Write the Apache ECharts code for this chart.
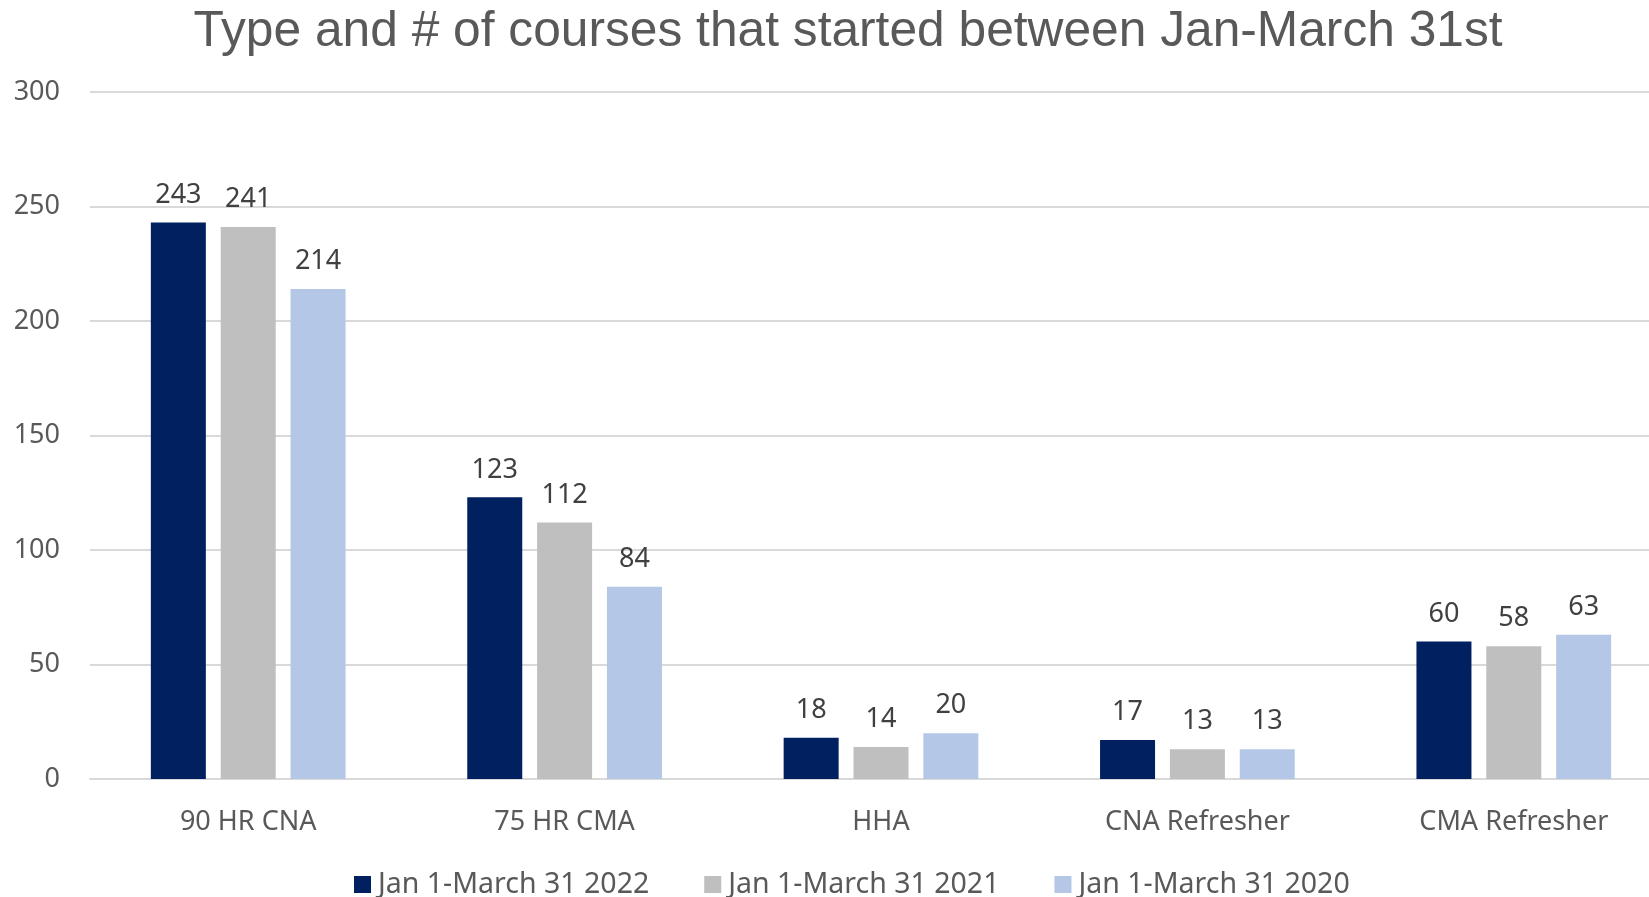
<!DOCTYPE html>
<html>
<head>
<meta charset="utf-8">
<script src="https://cdn.jsdelivr.net/npm/echarts@6/dist/echarts.min.js"></script>
<style>
  html, body { margin: 0; padding: 0; background: #fff; }
  #chart { width: 1649px; height: 897px; }
</style>
</head>
<body>
<div id="chart"></div>
<script>
const categories = ['90 HR CNA', '75 HR CMA', 'HHA', 'CNA Refresher', 'CMA Refresher'];
const seriesNames = ['Jan 1-March 31 2022', 'Jan 1-March 31 2021', 'Jan 1-March 31 2020'];
const values2022 = [243, 123, 18, 17, 60];
const values2021 = [241, 112, 14, 13, 58];
const values2020 = [214, 84, 20, 13, 63];
const colors = ['#002060', '#BFBFBF', '#B4C7E7'];

const labelFont = 'Noto Sans';

function makeSeries(name, data, color) {
    return {
        name: name,
        type: 'bar',
        data: data,
        barWidth: 55,
        barGap: '27%',
        itemStyle: {color: color},
        label: {
            show: true,
            position: 'top',
            distance: 14,
            color: '#404040',
            fontFamily: labelFont,
            fontSize: 27
        }
    };
}

const chart = echarts.init(document.getElementById('chart'), null, {renderer: 'canvas'});
chart.setOption({
    animation: false,
    backgroundColor: '#fff',
    title: {
        text: 'Type and # of courses that started between Jan-March 31st',
        left: 848,
        top: 7,
        padding: 0,
        textAlign: 'center',
        textStyle: {
            fontFamily: 'Liberation Sans',
            fontWeight: 'normal',
            fontSize: 49.7,
            color: '#595959'
        }
    },
    legend: {
        left: 354,
        top: 870,
        padding: 0,
        itemWidth: 17,
        itemHeight: 17,
        itemGap: 55,
        icon: 'rect',
        textStyle: {
            fontFamily: labelFont,
            fontSize: 28.5,
            color: '#595959',
            padding: [0, 0, 0, 2]
        }
    },
    grid: {
        left: 90,
        width: 1582,
        top: 92,
        bottom: 118,
        containLabel: false,
        outerBoundsMode: 'none'
    },
    xAxis: {
        type: 'category',
        data: categories,
        axisLine: {lineStyle: {color: '#D9D9D9', width: 2}},
        axisTick: {show: false},
        axisLabel: {
            margin: 30,
            color: '#595959',
            fontFamily: labelFont,
            fontSize: 27
        }
    },
    yAxis: {
        type: 'value',
        min: 0,
        max: 300,
        interval: 50,
        axisLine: {show: false},
        axisTick: {show: false},
        splitLine: {lineStyle: {color: '#D9D9D9', width: 2}},
        axisLabel: {
            margin: 30,
            color: '#595959',
            fontFamily: labelFont,
            fontSize: 27
        }
    },
    series: [
        makeSeries(seriesNames[0], values2022, colors[0]),
        makeSeries(seriesNames[1], values2021, colors[1]),
        makeSeries(seriesNames[2], values2020, colors[2])
    ]
});
</script>
</body>
</html>
